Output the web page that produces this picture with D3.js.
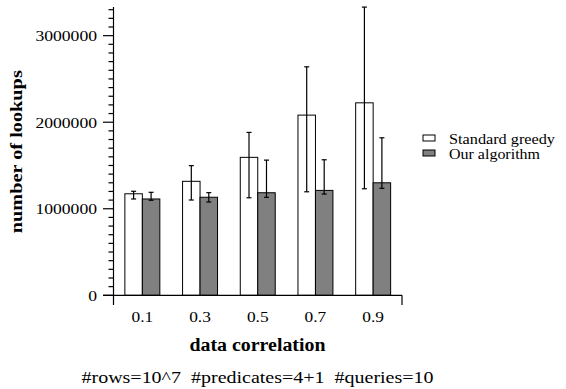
<!DOCTYPE html>
<html>
<head>
<meta charset="utf-8">
<script src="https://cdn.jsdelivr.net/npm/d3@7"></script>
<style>
  html, body { margin: 0; padding: 0; background: #fff; }
  svg { display: block; }
  svg text { font-family: 'Liberation Serif', 'Times New Roman', Times, serif; }
</style>
</head>
<body>
<svg id="chart" width="566" height="389"></svg>
<script>
const categories = ["0.1", "0.3", "0.5", "0.7", "0.9"];
const seriesNames = ["Standard greedy", "Our algorithm"];

// mean and error-bar ends
const greedyMean = [1173000, 1317000, 1594000, 2082000, 2224000];
const greedyLow  = [1113000, 1101000, 1127000, 1196000, 1231000];
const greedyHigh = [1202000, 1498000, 1882000, 2640000, 3330000];

const oursMean = [1113000, 1133000, 1185000, 1212000, 1300000];
const oursLow  = [1098000, 1078000, 1132000, 1170000, 1236000];
const oursHigh = [1190000, 1186000, 1562000, 1566000, 1820000];

const yMajorTicks = [0, 1000000, 2000000, 3000000];

const seriesFill = ["#ffffff", "#808080"];

const svg = d3.select("#chart");

const x0 = d3.scaleBand()
    .domain(categories)
    .range([113.5, 402])
    .paddingInner(0.394)
    .paddingOuter(0.197);

const x1 = d3.scaleBand()
    .domain(seriesNames)
    .range([0, x0.bandwidth()]);

const y = d3.scaleLinear()
    .domain([0, 3330000])
    .range([295.3, 7.1]);

const rows = [];
categories.forEach((c, i) => {
    rows.push({ cat: c, s: seriesNames[0], v: greedyMean[i], lo: greedyLow[i], hi: greedyHigh[i], fill: seriesFill[0] });
    rows.push({ cat: c, s: seriesNames[1], v: oursMean[i], lo: oursLow[i], hi: oursHigh[i], fill: seriesFill[1] });
});

// bars
svg.append("g").selectAll("rect")
    .data(rows)
    .join("rect")
    .attr("x", d => x0(d.cat) + x1(d.s))
    .attr("y", d => y(d.v))
    .attr("width", x1.bandwidth())
    .attr("height", d => y(0) - y(d.v))
    .attr("fill", d => d.fill)
    .attr("stroke", "#000")
    .attr("stroke-width", 1);

// error bars
const err = svg.append("g").attr("stroke", "#000").attr("stroke-width", 1.2);
rows.forEach(d => {
    const cx = x0(d.cat) + x1(d.s) + x1.bandwidth() / 2;
    err.append("line").attr("x1", cx).attr("x2", cx).attr("y1", y(d.lo)).attr("y2", y(d.hi));
    err.append("line").attr("x1", cx - 2.5).attr("x2", cx + 2.5).attr("y1", y(d.lo)).attr("y2", y(d.lo));
    err.append("line").attr("x1", cx - 2.5).attr("x2", cx + 2.5).attr("y1", y(d.hi)).attr("y2", y(d.hi));
});

// y axis: minor ticks every 100000, major ones labelled
const axisX = 113.5;
const yAxis = svg.append("g").attr("stroke", "#000").attr("stroke-width", 1.2);
yAxis.append("line").attr("x1", axisX).attr("x2", axisX).attr("y1", y(3330000)).attr("y2", 305);
d3.range(0, 3300001, 100000).forEach(v => {
    const major = yMajorTicks.includes(v);
    yAxis.append("line")
        .attr("x1", axisX - (major ? 10.5 : 5))
        .attr("x2", axisX)
        .attr("y1", y(v)).attr("y2", y(v));
});
svg.append("g").selectAll("text")
    .data(yMajorTicks)
    .join("text")
    .attr("x", 97)
    .attr("y", d => y(d) + 5.5)
    .attr("text-anchor", "end")
    .attr("font-size", 14.5)
    .attr("textLength", d => String(d).length * 8.8)
    .attr("lengthAdjust", "spacingAndGlyphs")
    .text(d => d);

// x axis
const xAxis = svg.append("g").attr("stroke", "#000").attr("stroke-width", 1.2);
xAxis.append("line").attr("x1", 103).attr("x2", 402).attr("y1", y(0)).attr("y2", y(0));
xAxis.append("line").attr("x1", 402).attr("x2", 402).attr("y1", y(0)).attr("y2", 305);

svg.append("g").selectAll("text")
    .data(categories)
    .join("text")
    .attr("x", d => x0(d) + x0.bandwidth() / 2)
    .attr("y", 322)
    .attr("text-anchor", "middle")
    .attr("font-size", 14)
    .attr("textLength", 21.7)
    .attr("lengthAdjust", "spacingAndGlyphs")
    .text(d => d);

// axis titles
svg.append("text")
    .attr("x", 257.5).attr("y", 350.7)
    .attr("text-anchor", "middle")
    .attr("font-size", 18).attr("font-weight", "bold")
    .attr("textLength", 136).attr("lengthAdjust", "spacingAndGlyphs")
    .text("data correlation");

svg.append("text")
    .attr("transform", "translate(22,151.7) rotate(-90)")
    .attr("text-anchor", "middle")
    .attr("font-size", 17).attr("font-weight", "bold")
    .attr("textLength", 163).attr("lengthAdjust", "spacingAndGlyphs")
    .text("number of lookups");

svg.append("text")
    .attr("x", 257.5).attr("y", 383)
    .attr("text-anchor", "middle")
    .attr("font-size", 16)
    .style("white-space", "pre")
    .attr("textLength", 352).attr("lengthAdjust", "spacingAndGlyphs")
    .text("#rows=10^7  #predicates=4+1  #queries=10");

// legend
const legendWidths = [106, 91];
const legend = svg.append("g");
seriesNames.forEach((name, i) => {
    legend.append("rect")
        .attr("x", 423).attr("y", 135 + i * 15)
        .attr("width", 12).attr("height", 6)
        .attr("fill", seriesFill[i])
        .attr("stroke", "#000").attr("stroke-width", 1);
    legend.append("text")
        .attr("x", 449).attr("y", 143.5 + i * 15)
        .attr("font-size", 15)
        .attr("textLength", legendWidths[i])
        .attr("lengthAdjust", "spacingAndGlyphs")
        .text(name);
});
</script>
</body>
</html>
